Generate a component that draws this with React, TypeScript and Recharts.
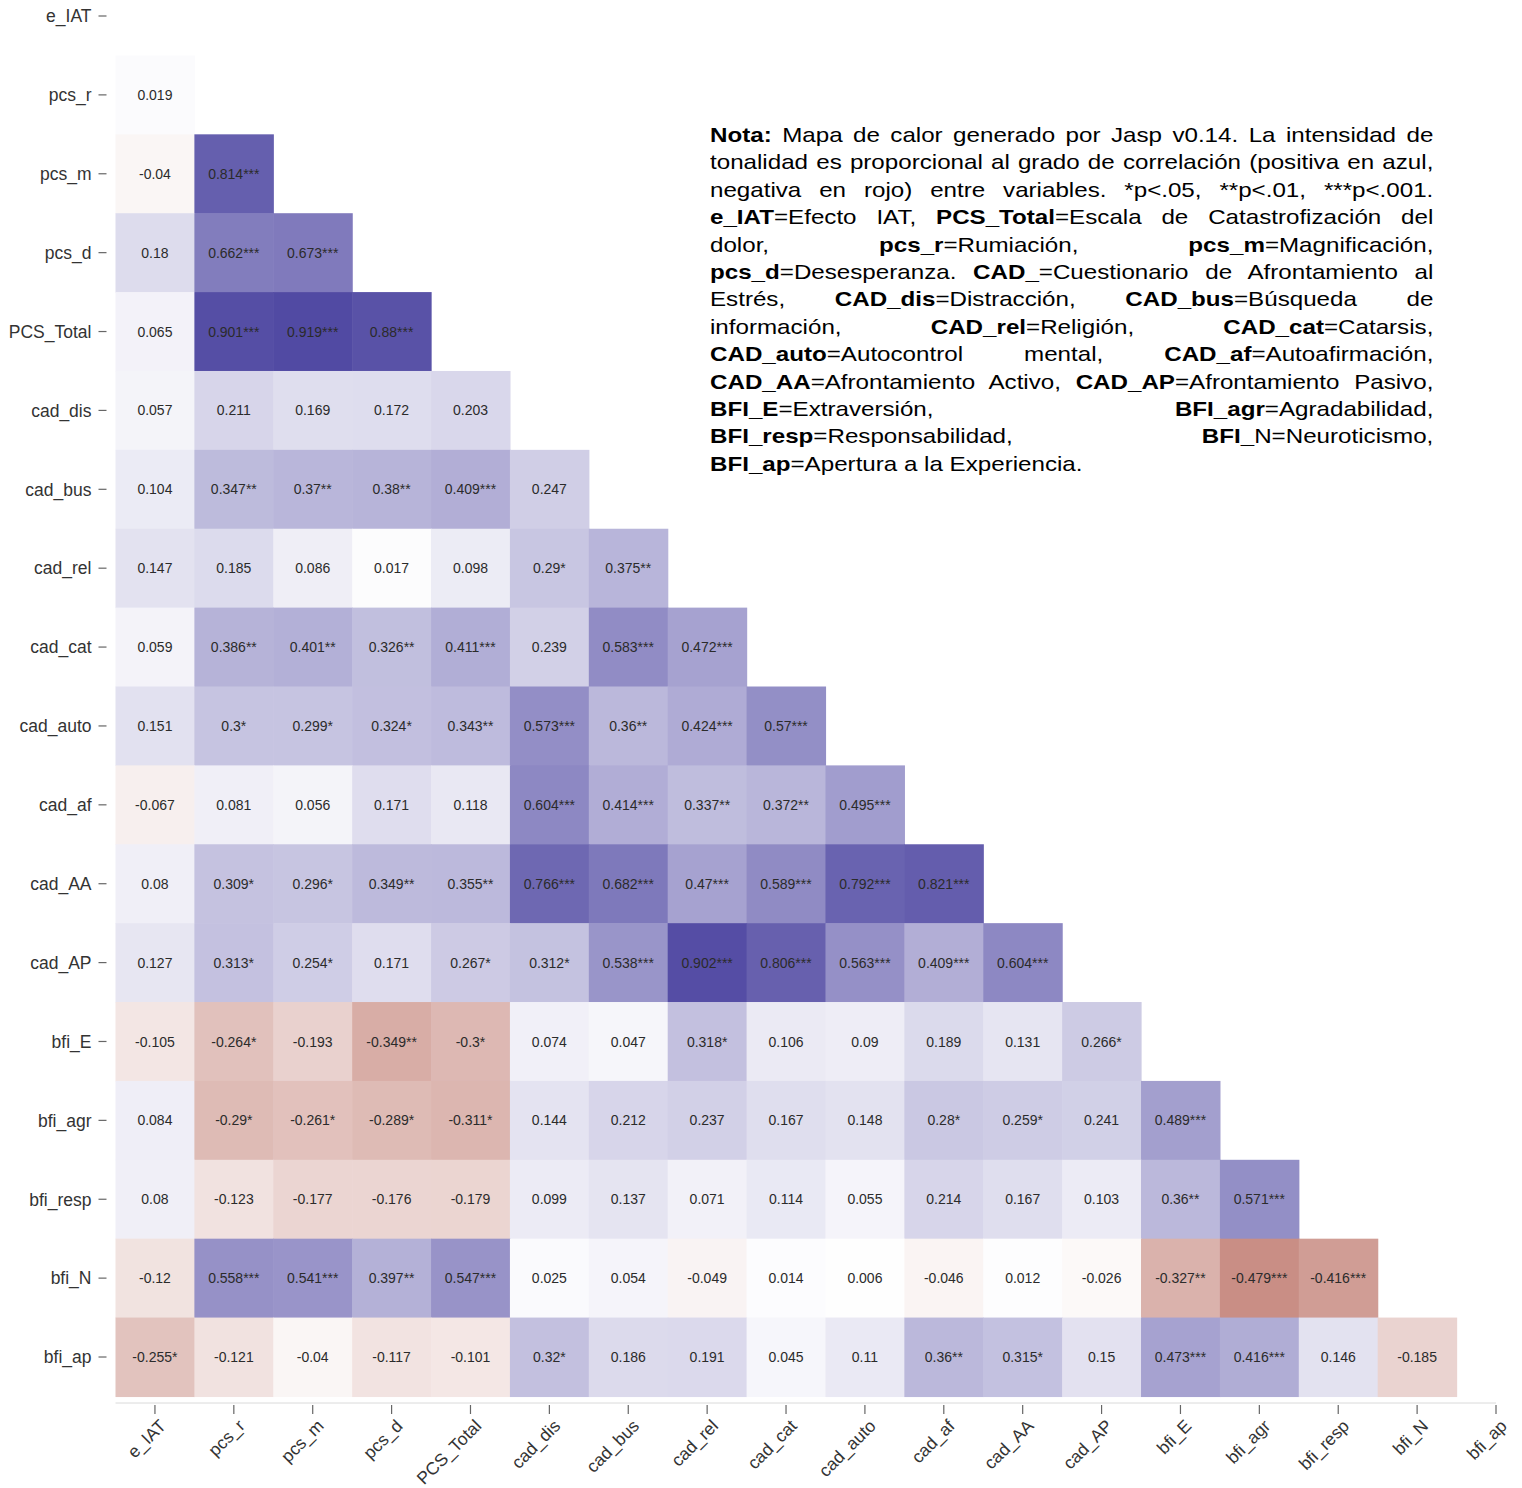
import React from 'react';
import { ScatterChart, Scatter, XAxis, YAxis } from 'recharts';

const VARS = [
  'e_IAT', 'pcs_r', 'pcs_m', 'pcs_d', 'PCS_Total', 'cad_dis', 'cad_bus', 'cad_rel', 'cad_cat',
  'cad_auto', 'cad_af', 'cad_AA', 'cad_AP', 'bfi_E', 'bfi_agr', 'bfi_resp', 'bfi_N', 'bfi_ap',
];

// lower triangle, one row per variable (row i holds columns 0..i-1), stars = significance
const pcs_r = ['0.019'];
const pcs_m = ['-0.04', '0.814***'];
const pcs_d = ['0.18', '0.662***', '0.673***'];
const PCS_Total = ['0.065', '0.901***', '0.919***', '0.88***'];
const cad_dis = ['0.057', '0.211', '0.169', '0.172', '0.203'];
const cad_bus = ['0.104', '0.347**', '0.37**', '0.38**', '0.409***', '0.247'];
const cad_rel = ['0.147', '0.185', '0.086', '0.017', '0.098', '0.29*', '0.375**'];
const cad_cat = ['0.059', '0.386**', '0.401**', '0.326**', '0.411***', '0.239', '0.583***', '0.472***'];
const cad_auto = ['0.151', '0.3*', '0.299*', '0.324*', '0.343**', '0.573***', '0.36**', '0.424***', '0.57***'];
const cad_af = ['-0.067', '0.081', '0.056', '0.171', '0.118', '0.604***', '0.414***', '0.337**', '0.372**', '0.495***'];
const cad_AA = ['0.08', '0.309*', '0.296*', '0.349**', '0.355**', '0.766***', '0.682***', '0.47***', '0.589***', '0.792***', '0.821***'];
const cad_AP = ['0.127', '0.313*', '0.254*', '0.171', '0.267*', '0.312*', '0.538***', '0.902***', '0.806***', '0.563***', '0.409***', '0.604***'];
const bfi_E = ['-0.105', '-0.264*', '-0.193', '-0.349**', '-0.3*', '0.074', '0.047', '0.318*', '0.106', '0.09', '0.189', '0.131', '0.266*'];
const bfi_agr = ['0.084', '-0.29*', '-0.261*', '-0.289*', '-0.311*', '0.144', '0.212', '0.237', '0.167', '0.148', '0.28*', '0.259*', '0.241', '0.489***'];
const bfi_resp = ['0.08', '-0.123', '-0.177', '-0.176', '-0.179', '0.099', '0.137', '0.071', '0.114', '0.055', '0.214', '0.167', '0.103', '0.36**', '0.571***'];
const bfi_N = ['-0.12', '0.558***', '0.541***', '0.397**', '0.547***', '0.025', '0.054', '-0.049', '0.014', '0.006', '-0.046', '0.012', '-0.026', '-0.327**', '-0.479***', '-0.416***'];
const bfi_ap = ['-0.255*', '-0.121', '-0.04', '-0.117', '-0.101', '0.32*', '0.186', '0.191', '0.045', '0.11', '0.36**', '0.315*', '0.15', '0.473***', '0.416***', '0.146', '-0.185'];

const ROWS = [[], pcs_r, pcs_m, pcs_d, PCS_Total, cad_dis, cad_bus, cad_rel, cad_cat, cad_auto,
  cad_af, cad_AA, cad_AP, bfi_E, bfi_agr, bfi_resp, bfi_N, bfi_ap];

const TICKS = VARS.map((_, i) => i);

const cells = ROWS.flatMap((row, y) =>
  row.map((label, x) => ({ x, y, label, v: parseFloat(label) })),
);

const FONT = '"Liberation Sans", Arial, Helvetica, sans-serif';
const W = 1522;
const H = 1488;
const CELL = 78.886;
const POS = [66, 58, 155];
const NEG = [142, 19, 0];

function cellColor(v: number) {
  const t = Math.min(1, Math.abs(v));
  const c = v >= 0 ? POS : NEG;
  const ch = c.map((k) => Math.round(255 - t * (255 - k)));
  return `rgb(${ch[0]},${ch[1]},${ch[2]})`;
}

function CellShape(props: any) {
  const { cx, cy, payload } = props;
  if (cx == null || cy == null) return null;
  return (
    <g>
      <rect x={cx - CELL / 2} y={cy - CELL / 2} width={CELL + 0.6} height={CELL + 0.6} fill={cellColor(payload.v)} />
      <text x={cx} y={cy} dy="0.36em" textAnchor="middle" fontSize={14} fontFamily={FONT} fill="#2b2b2b">
        {payload.label}
      </text>
    </g>
  );
}

function YTick({ x, y, payload }: any) {
  return (
    <g>
      <line x1={x - 17} x2={x - 9} y1={y} y2={y} stroke="#666" strokeWidth={1.2} />
      <text x={x - 24} y={y} dy="0.36em" textAnchor="end" fontSize={17.5} fontFamily={FONT} fill="#333">
        {VARS[payload.value]}
      </text>
    </g>
  );
}

function XTick({ x, y, payload }: any) {
  return (
    <g>
      <line x1={x} x2={x} y1={y + 2} y2={y + 11} stroke="#666" strokeWidth={1.2} />
      <text
        x={x + 12}
        y={y + 24}
        textAnchor="end"
        fontSize={17.5}
        fontFamily={FONT}
        fill="#333"
        transform={`rotate(-45 ${x + 12} ${y + 24})`}
      >
        {VARS[payload.value]}
      </text>
    </g>
  );
}

const B = ({ children }: { children: React.ReactNode }) => <b>{children}</b>;

const NOTE_LINES: React.ReactNode[] = [
  <><B>Nota:</B> Mapa de calor generado por Jasp v0.14. La intensidad de</>,
  <>tonalidad es proporcional al grado de correlación (positiva en azul,</>,
  <>negativa en rojo) entre variables. *p&lt;.05, **p&lt;.01, ***p&lt;.001.</>,
  <><B>e_IAT</B>=Efecto IAT, <B>PCS_Total</B>=Escala de Catastrofización del</>,
  <>dolor, <B>pcs_r</B>=Rumiación, <B>pcs_m</B>=Magnificación,</>,
  <><B>pcs_d</B>=Desesperanza. <B>CAD_</B>=Cuestionario de Afrontamiento al</>,
  <>Estrés, <B>CAD_dis</B>=Distracción, <B>CAD_bus</B>=Búsqueda de</>,
  <>información, <B>CAD_rel</B>=Religión, <B>CAD_cat</B>=Catarsis,</>,
  <><B>CAD_auto</B>=Autocontrol mental, <B>CAD_af</B>=Autoafirmación,</>,
  <><B>CAD_AA</B>=Afrontamiento Activo, <B>CAD_AP</B>=Afrontamiento Pasivo,</>,
  <><B>BFI_E</B>=Extraversión, <B>BFI_agr</B>=Agradabilidad,</>,
  <><B>BFI_resp</B>=Responsabilidad, <B>BFI_</B>N=Neuroticismo,</>,
  <><B>BFI_ap</B>=Apertura a la Experiencia.</>,
];

export default function App() {
  return (
    <div style={{ position: 'absolute', left: 0, top: 0, width: W, height: H, background: '#fff', overflow: 'hidden' }}>
      <ScatterChart width={W} height={H} margin={{ top: 16, right: 26, bottom: 0, left: 0 }}>
        <XAxis
          type="number"
          dataKey="x"
          domain={[-0.5, 17]}
          ticks={TICKS}
          interval={0}
          height={85}
          tickSize={0}
          tickMargin={0}
          tick={<XTick />}
          axisLine={{ stroke: '#dadada', strokeWidth: 1 }}
        />
        <YAxis
          type="number"
          dataKey="y"
          domain={[0, 17.583]}
          reversed
          ticks={TICKS}
          interval={0}
          width={115.5}
          tickSize={0}
          tickMargin={0}
          tick={<YTick />}
          axisLine={false}
        />
        <Scatter data={cells} shape={<CellShape />} isAnimationActive={false} />
      </ScatterChart>
      <div
        style={{
          position: 'absolute',
          left: 710,
          top: 121,
          width: 629,
          transform: 'scaleX(1.15)',
          transformOrigin: '0 0',
          fontFamily: FONT,
          fontSize: 21,
          lineHeight: '27.4px',
          color: '#000',
        }}
      >
        {NOTE_LINES.map((line, i) => (
          <div
            key={i}
            style={{
              textAlign: 'justify',
              textAlignLast: i === NOTE_LINES.length - 1 ? 'left' : 'justify',
              whiteSpace: 'nowrap',
            }}
          >
            {line}
          </div>
        ))}
      </div>
    </div>
  );
}
